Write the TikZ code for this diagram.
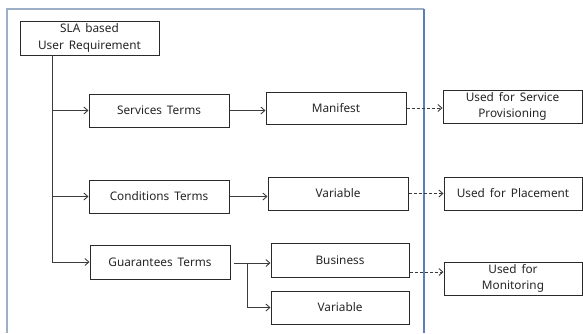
\documentclass[tikz,border=0pt]{standalone}
\usepackage{fontspec}
\setmainfont{Noto Sans}[WordSpace=1.6]
\usetikzlibrary{arrows.meta,calc}
\definecolor{framelight}{HTML}{9DAFC8}
\definecolor{framedark}{HTML}{5B7FB6}
\definecolor{boxline}{HTML}{2A2A2A}
\definecolor{conn}{HTML}{3C3C3C}
\begin{document}
\begin{tikzpicture}[x=1pt,y=-1pt,
  box/.style={draw=boxline,line width=1pt,fill=white,inner sep=0pt,align=center,
    font=\fontsize{11.8}{16.5}\selectfont,text=black!85},
  conline/.style={draw=conn,line width=0.9pt,-{Straight Barb[length=4pt,width=7pt]}},
  dashline/.style={conline,dashed,dash pattern=on 3pt off 2pt}]
\useasboundingbox (0,0) rectangle (583,333);
\fill[white] (0,0) rectangle (583,333);
% frame
\draw[framelight,line width=1.6pt] (7,333) -- (7,9) -- (424,9);
\draw[framedark,line width=1.2pt] (424,9) -- (424,333);
% nodes
\node[box,minimum width=139pt,minimum height=34pt] (sla) at (89.5,38) {SLA based\\User Requirement};
\node[box,minimum width=140pt,minimum height=33pt] (serv) at (159,110.5) {Services Terms};
\node[box,minimum width=140pt,minimum height=32pt] (man) at (336,108) {Manifest};
\node[box,minimum width=139pt,minimum height=33pt] (usp) at (512.5,106.5) {Used for Service\\Provisioning};
\node[box,minimum width=140pt,minimum height=33pt] (cond) at (159,196.5) {Conditions Terms};
\node[box,minimum width=140pt,minimum height=33pt] (var) at (338,193.5) {Variable};
\node[box,minimum width=138pt,minimum height=33pt] (place) at (513,193.5) {Used for Placement};
\node[box,minimum width=140pt,minimum height=34pt] (guar) at (160,262) {Guarantees Terms};
\node[box,minimum width=138pt,minimum height=34pt] (bus) at (340,260) {Business};
\node[box,minimum width=138pt,minimum height=33pt] (var2) at (340,307.5) {Variable};
\node[box,minimum width=138pt,minimum height=33pt] (mon) at (513,278.5) {Used for\\Monitoring};
% trunk
\coordinate (trunk) at (52,55);
\draw[conn,line width=0.9pt] (trunk) -- (trunk |- guar.west);
\draw[conline] (trunk |- serv.west) -- (serv.west);
\draw[conline] (trunk |- cond.west) -- (cond.west);
\draw[conline] (trunk |- guar.west) -- (guar.west);
% second level
\draw[conline] (serv.east) -- (serv.east -| man.west);
\draw[conline] (cond.east) -- (cond.east -| var.west);
\coordinate (gstart) at ($(guar.east)+(3,1)$);
\coordinate (br) at ($(gstart)+(14,0)$);
\draw[conline] (gstart) -- (gstart -| bus.west);
\draw[conline] (br) |- (var2.west);
% dashed
\draw[dashline] (man.east) -- (man.east -| usp.west);
\draw[dashline] (var.east) -- (var.east -| place.west);
\draw[dashline] ([yshift=-12pt]bus.east) -- ([yshift=-12pt]bus.east -| mon.west);
\end{tikzpicture}
\end{document}
